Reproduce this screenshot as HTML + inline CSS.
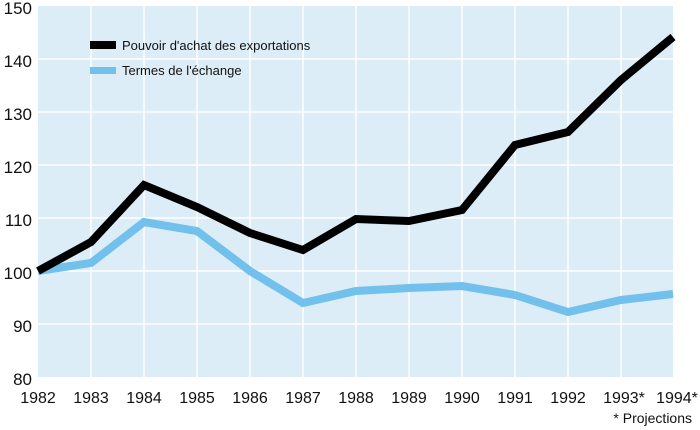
<!DOCTYPE html>
<html><head><meta charset="utf-8"><style>
html,body{margin:0;padding:0;background:#fff;}
svg{display:block;}
text{font-family:"Liberation Sans",sans-serif;fill:#111;}
</style></head><body>
<svg width="700" height="430" viewBox="0 0 700 430" xmlns="http://www.w3.org/2000/svg">
<rect x="38" y="6" width="635" height="371" fill="#dcedf7"/>
<g stroke="#fff" stroke-width="1.5">
<line x1="38" y1="59" x2="673" y2="59"/><line x1="38" y1="112" x2="673" y2="112"/>
<line x1="38" y1="165" x2="673" y2="165"/><line x1="38" y1="218" x2="673" y2="218"/>
<line x1="38" y1="271" x2="673" y2="271"/><line x1="38" y1="324" x2="673" y2="324"/>
<line x1="91" y1="6" x2="91" y2="377"/><line x1="144" y1="6" x2="144" y2="377"/>
<line x1="197" y1="6" x2="197" y2="377"/><line x1="250" y1="6" x2="250" y2="377"/>
<line x1="303" y1="6" x2="303" y2="377"/><line x1="356" y1="6" x2="356" y2="377"/>
<line x1="409" y1="6" x2="409" y2="377"/><line x1="462" y1="6" x2="462" y2="377"/>
<line x1="515" y1="6" x2="515" y2="377"/><line x1="568" y1="6" x2="568" y2="377"/>
<line x1="621" y1="6" x2="621" y2="377"/>
</g>
<polyline fill="none" stroke="#72c0ec" stroke-width="8" stroke-linejoin="miter"
 points="38,271 91,263 144,222 197,231 250,271 303,303 356,291 409,288 462,286 515,295 568,312 621,300 673,294"/>
<polyline fill="none" stroke="#000" stroke-width="8" stroke-linejoin="miter"
 points="38,271 91,242 144,185 197,207 250,233 303,250 356,219 409,221 462,210 515,145 568,132 621,80 673,37"/>
<rect x="90" y="41" width="26" height="8" fill="#000"/>
<rect x="90" y="67" width="26" height="7" fill="#72c0ec"/>
<text x="122" y="50" font-size="13">Pouvoir d'achat des exportations</text>
<text x="122" y="75" font-size="13">Termes de l'échange</text>
<g font-size="17" text-anchor="end">
<text x="32" y="14">150</text><text x="32" y="67">140</text><text x="32" y="120">130</text>
<text x="32" y="173">120</text><text x="32" y="226">110</text><text x="32" y="279">100</text>
<text x="32" y="332">90</text><text x="32" y="385">80</text>
</g>
<g font-size="16" text-anchor="middle">
<text x="38" y="403">1982</text><text x="91" y="403">1983</text><text x="144" y="403">1984</text>
<text x="197" y="403">1985</text><text x="250" y="403">1986</text><text x="303" y="403">1987</text>
<text x="356" y="403">1988</text><text x="409" y="403">1989</text><text x="462" y="403">1990</text>
<text x="515" y="403">1991</text><text x="568" y="403">1992</text><text x="624" y="403">1993*</text>
<text x="677" y="403">1994*</text>
</g>
<text x="692" y="423" font-size="14" text-anchor="end">* Projections</text>
</svg>
</body></html>
